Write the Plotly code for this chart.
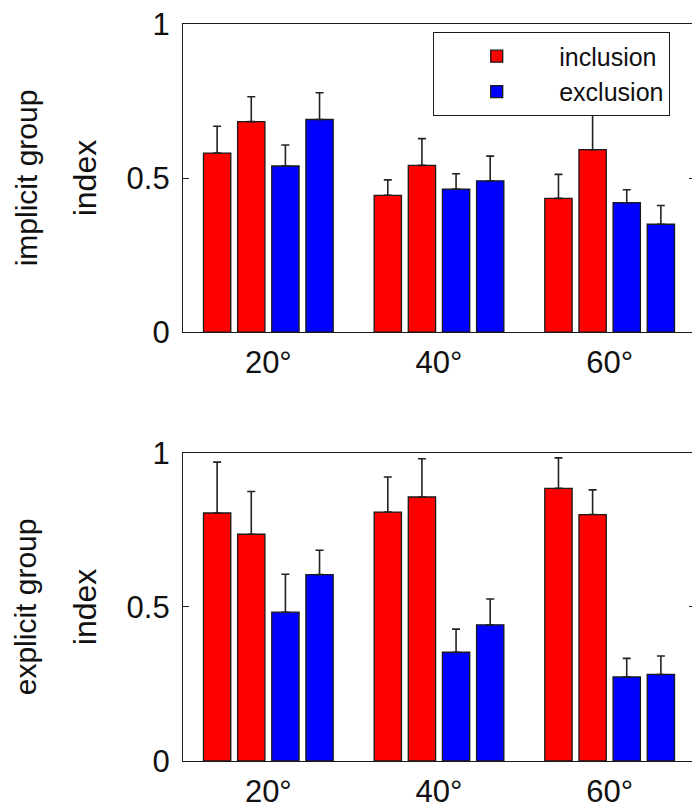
import plotly.graph_objects as go

angles = ["20°", "40°", "60°"]
group_pos = [1, 2, 3]

# implicit group (top panel)
imp_incl_a = [0.581, 0.444, 0.434]
imp_incl_a_err = [0.087, 0.050, 0.078]
imp_incl_b = [0.683, 0.541, 0.592]
imp_incl_b_err = [0.081, 0.087, 0.120]
imp_excl_a = [0.539, 0.464, 0.420]
imp_excl_a_err = [0.068, 0.050, 0.042]
imp_excl_b = [0.690, 0.491, 0.350]
imp_excl_b_err = [0.087, 0.080, 0.061]

# explicit group (bottom panel)
exp_incl_a = [0.805, 0.808, 0.885]
exp_incl_a_err = [0.165, 0.114, 0.099]
exp_incl_b = [0.736, 0.857, 0.800]
exp_incl_b_err = [0.139, 0.124, 0.080]
exp_excl_a = [0.483, 0.353, 0.273]
exp_excl_a_err = [0.123, 0.075, 0.060]
exp_excl_b = [0.605, 0.442, 0.281]
exp_excl_b_err = [0.079, 0.084, 0.060]

y_ticks = [0, 0.5, 1]
y_ticktext = ["0", "0.5", "1"]

RED = "#FF0000"
BLUE = "#0000FF"
FONT = "Liberation Sans, Arial, sans-serif"

fig = go.Figure()

def add_bar(vals, errs, color, name, show, xa, ya, offsetgroup):
    fig.add_trace(go.Bar(
        x=group_pos, y=vals, name=name, legendgroup=name, showlegend=show,
        marker=dict(color=color, line=dict(color="#1a1a1a", width=1.3)),
        error_y=dict(type="data", array=errs, arrayminus=[0] * len(errs), symmetric=False,
                     color="#222222", thickness=1.6, width=4),
        xaxis=xa, yaxis=ya, offsetgroup=offsetgroup,
    ))

panels = [
    ("x", "y", [(imp_incl_a, imp_incl_a_err, RED, "inclusion", True),
                (imp_incl_b, imp_incl_b_err, RED, "inclusion", False),
                (imp_excl_a, imp_excl_a_err, BLUE, "exclusion", True),
                (imp_excl_b, imp_excl_b_err, BLUE, "exclusion", False)]),
    ("x2", "y2", [(exp_incl_a, exp_incl_a_err, RED, "inclusion", False),
                  (exp_incl_b, exp_incl_b_err, RED, "inclusion", False),
                  (exp_excl_a, exp_excl_a_err, BLUE, "exclusion", False),
                  (exp_excl_b, exp_excl_b_err, BLUE, "exclusion", False)]),
]
for xa, ya, series in panels:
    for i, (v, e, c, n, s) in enumerate(series):
        add_bar(v, e, c, n, s, xa, ya, str(i))

xcommon = dict(range=[0.5, 3.5], tickvals=group_pos, ticktext=angles, showline=True,
               linecolor="#1a1a1a", linewidth=1.3, mirror=True, ticks="", showgrid=False,
               zeroline=False, tickfont=dict(size=31, color="#111111", family=FONT),
               automargin=False, ticklabelstandoff=3)
ycommon = dict(range=[0, 1], tickvals=y_ticks, ticktext=y_ticktext, showline=True,
               linecolor="#1a1a1a", linewidth=1.3, mirror="ticks", ticks="inside", ticklen=6,
               tickcolor="#1a1a1a", showgrid=False, zeroline=False,
               tickfont=dict(size=31, color="#111111", family=FONT), automargin=False,
               ticklabelstandoff=6, ticklabeloverflow="allow",
               title=dict(text="index", font=dict(size=32, color="#111111", family=FONT), standoff=20))

fig.update_layout(
    width=700, height=809, autosize=False,
    margin=dict(l=175, r=13, t=16, b=56),
    paper_bgcolor="white", plot_bgcolor="white",
    barmode="group", bargap=0.2, bargroupgap=0.2,
    font=dict(family=FONT, color="#111111"),
    xaxis=dict(domain=[0, 1], anchor="y", **xcommon),
    yaxis=dict(domain=[0.582, 1.0], anchor="x", **ycommon),
    xaxis2=dict(domain=[0, 1], anchor="y2", **xcommon),
    yaxis2=dict(domain=[0.0, 0.418], anchor="x2", **ycommon),
    legend=dict(x=0.951, y=0.989, xanchor="right", yanchor="top",
                bgcolor="white", bordercolor="#1a1a1a", borderwidth=1.3,
                font=dict(size=25, family=FONT, color="#111111"),
                itemwidth=115, tracegroupgap=0),
    annotations=[
        dict(text="implicit group", xref="paper", yref="paper", x=-0.306, y=0.791,
             textangle=-90, showarrow=False, xanchor="center", yanchor="middle",
             font=dict(size=30, family=FONT, color="#111111")),
        dict(text="explicit group", xref="paper", yref="paper", x=-0.306, y=0.209,
             textangle=-90, showarrow=False, xanchor="center", yanchor="middle",
             font=dict(size=30, family=FONT, color="#111111")),
    ],
)

fig.write_html("out.html")
